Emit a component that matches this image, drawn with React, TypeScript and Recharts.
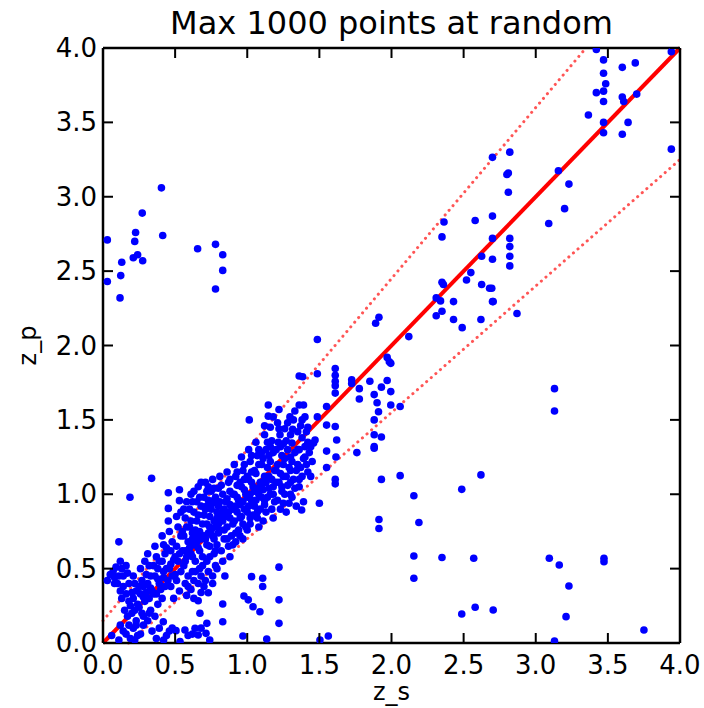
import { ScatterChart, Scatter, XAxis, YAxis, ReferenceLine } from 'recharts';

const title = 'Max 1000 points at random';
const xLabel = 'z_s';
const yLabel = 'z_p';
const ticks = [0, 0.5, 1, 1.5, 2, 2.5, 3, 3.5, 4];

// red guide lines: identity and the two dotted bounds
const identityLine = [{ x: 0, y: 0 }, { x: 4, y: 4 }];
const upperBound = [{ x: 0, y: 0.15 }, { x: 3.348, y: 4 }];
const lowerBound = [{ x: 0.1765, y: 0 }, { x: 4, y: 3.25 }];

const topLeftPoints: [number, number][] = [
  [0.03, 2.71], [0.22, 2.7], [0.226, 2.76], [0.272, 2.89], [0.405, 3.06], [0.414, 2.74],
  [0.656, 2.65], [0.78, 2.68], [0.21, 2.59], [0.24, 2.61], [0.275, 2.57], [0.13, 2.56],
  [0.123, 2.47], [0.03, 2.43], [0.118, 2.32], [0.83, 2.61], [0.83, 2.505], [0.78, 2.38],
];

const clusterPoints: [number, number][] = [
  [0.03, 0.42], [0.05, 0.46], [0.07, 0.48], [0.08, 0.4], [0.06, 0.05], [0.09, 0.51],
  [0.11, 0.68], [0.12, 0.55], [0.13, 0.5], [0.11, 0.45], [0.14, 0.38], [0.12, 0.35], [0.13, 0.3], [0.14, 0.08], [0.12, 0.12], [0.11, 0.02],
  [0.16, 0.52], [0.17, 0.47], [0.18, 0.4], [0.16, 0.33], [0.19, 0.25], [0.17, 0.18], [0.18, 0.12], [0.16, 0.06], [0.19, 0.03], [0.187, 0.98],
  [0.21, 0.45], [0.22, 0.4], [0.23, 0.35], [0.21, 0.3], [0.24, 0.26], [0.22, 0.22], [0.23, 0.15], [0.21, 0.1], [0.24, 0.05], [0.22, 0.02],
  [0.26, 0.5], [0.27, 0.42], [0.28, 0.38], [0.26, 0.33], [0.29, 0.28], [0.27, 0.2], [0.28, 0.12], [0.26, 0.06], [0.29, 0.55],
  [0.31, 0.6], [0.32, 0.52], [0.33, 0.45], [0.31, 0.4], [0.34, 0.35], [0.32, 0.3], [0.33, 0.22], [0.31, 0.15], [0.34, 0.08], [0.337, 1.107],
  [0.36, 0.65], [0.37, 0.58], [0.38, 0.5], [0.36, 0.45], [0.39, 0.4], [0.37, 0.33], [0.38, 0.26], [0.36, 0.18], [0.39, 0.1], [0.37, 0.03],
  [0.41, 0.72], [0.42, 0.66], [0.43, 0.6], [0.41, 0.55], [0.44, 0.5], [0.42, 0.44], [0.43, 0.38], [0.41, 0.3], [0.418, 0.143], [0.44, 0.05], [0.42, 0.02],
  [0.453, 1.01], [0.453, 0.905], [0.453, 0.82], [0.46, 0.75], [0.48, 0.68], [0.47, 0.62], [0.49, 0.56], [0.46, 0.5], [0.48, 0.45], [0.47, 0.38], [0.49, 0.3], [0.46, 0.08], [0.48, 0.1],
  [0.53, 1.03], [0.53, 0.957], [0.51, 0.85], [0.52, 0.78], [0.54, 0.72], [0.51, 0.65], [0.53, 0.6], [0.52, 0.55], [0.54, 0.48], [0.51, 0.42], [0.53, 0.35], [0.506, 0.083], [0.534, 0.009],
  [0.56, 0.9], [0.57, 0.84], [0.58, 0.78], [0.56, 0.72], [0.59, 0.68], [0.57, 0.62], [0.58, 0.58], [0.56, 0.52], [0.59, 0.45], [0.57, 0.4], [0.58, 0.32], [0.568, 0.087], [0.59, 0.05],
  [0.61, 1.0], [0.62, 0.95], [0.63, 0.88], [0.61, 0.82], [0.64, 0.76], [0.62, 0.7], [0.63, 0.66], [0.61, 0.6], [0.64, 0.55], [0.62, 0.48], [0.63, 0.42], [0.61, 0.36], [0.638, 0.099], [0.62, 0.06],
  [0.66, 1.05], [0.67, 0.98], [0.68, 0.92], [0.66, 0.86], [0.69, 0.8], [0.67, 0.75], [0.68, 0.7], [0.66, 0.64], [0.69, 0.58], [0.67, 0.5], [0.68, 0.45], [0.66, 0.4], [0.66, 0.284], [0.672, 0.2], [0.68, 0.1], [0.66, 0.054],
  [0.71, 1.08], [0.72, 1.02], [0.73, 0.96], [0.71, 0.9], [0.74, 0.85], [0.72, 0.8], [0.73, 0.74], [0.71, 0.7], [0.74, 0.65], [0.72, 0.55], [0.73, 0.48], [0.71, 0.42], [0.73, 0.338], [0.72, 0.132], [0.714, 0.065], [0.74, 0.02],
  [0.76, 1.1], [0.77, 1.04], [0.78, 0.98], [0.76, 0.94], [0.79, 0.88], [0.77, 0.82], [0.78, 0.78], [0.76, 0.72], [0.79, 0.66], [0.77, 0.6], [0.78, 0.52], [0.76, 0.45],
  [0.81, 1.12], [0.82, 1.06], [0.83, 1.0], [0.81, 0.95], [0.84, 0.9], [0.82, 0.86], [0.83, 0.82], [0.81, 0.76], [0.84, 0.7], [0.82, 0.62], [0.83, 0.55], [0.845, 0.45], [0.83, 0.262], [0.83, 0.143],
  [0.86, 1.15], [0.87, 1.08], [0.88, 1.02], [0.86, 0.97], [0.89, 0.92], [0.87, 0.88], [0.88, 0.84], [0.86, 0.78], [0.89, 0.72], [0.87, 0.65], [0.88, 0.58],
  [0.91, 1.2], [0.92, 1.12], [0.93, 1.06], [0.91, 1.0], [0.94, 0.96], [0.92, 0.92], [0.93, 0.88], [0.91, 0.82], [0.94, 0.76], [0.92, 0.68],
  [0.96, 1.25], [0.97, 1.16], [0.98, 1.1], [0.96, 1.05], [0.99, 1.0], [0.97, 0.95], [0.98, 0.9], [0.96, 0.85], [0.99, 0.78], [0.97, 0.7], [0.977, 0.316], [0.97, 0.047],
  [1.014, 1.5], [1.01, 1.3], [1.02, 1.22], [1.03, 1.15], [1.01, 1.1], [1.04, 1.05], [1.02, 1.0], [1.03, 0.96], [1.01, 0.92], [1.04, 0.86], [1.02, 0.8], [1.007, 0.29], [1.03, 0.446], [1.04, 0.244],
  [1.06, 1.35], [1.07, 1.26], [1.08, 1.2], [1.06, 1.14], [1.09, 1.08], [1.07, 1.04], [1.08, 1.0], [1.06, 0.96], [1.09, 0.9], [1.07, 0.84], [1.08, 0.78], [1.088, 0.21], [1.107, 0.435], [1.107, 0.38],
  [1.14, 1.35], [1.146, 1.6], [1.146, 1.525], [1.12, 1.4], [1.13, 1.3], [1.11, 1.24], [1.14, 1.18], [1.12, 1.12], [1.13, 1.08], [1.11, 1.03], [1.14, 0.98], [1.12, 0.93], [1.13, 0.88], [1.11, 0.82], [1.135, 0.027],
  [1.16, 1.45], [1.17, 1.36], [1.18, 1.28], [1.16, 1.22], [1.19, 1.16], [1.17, 1.1], [1.18, 1.05], [1.16, 1.0], [1.19, 0.95], [1.17, 0.9], [1.18, 0.84],
  [1.22, 1.57], [1.227, 1.4], [1.215, 1.35], [1.21, 1.48], [1.23, 1.32], [1.24, 1.26], [1.21, 1.2], [1.23, 1.14], [1.22, 1.08], [1.24, 1.02], [1.21, 0.96], [1.23, 0.9], [1.22, 0.51], [1.22, 0.29], [1.22, 0.132],
  [1.296, 1.52], [1.26, 1.44], [1.27, 1.36], [1.28, 1.3], [1.26, 1.24], [1.29, 1.18], [1.27, 1.12], [1.28, 1.06], [1.26, 1.0], [1.29, 0.94], [1.27, 0.88],
  [1.315, 1.437], [1.31, 1.345], [1.32, 1.5], [1.33, 1.28], [1.31, 1.22], [1.34, 1.16], [1.32, 1.1], [1.33, 1.04], [1.31, 0.98], [1.34, 0.92],
  [1.36, 1.6], [1.37, 1.46], [1.38, 1.38], [1.36, 1.3], [1.39, 1.24], [1.37, 1.18], [1.38, 1.12], [1.36, 1.05], [1.39, 0.95],
  [1.41, 1.42], [1.42, 1.35], [1.43, 1.28], [1.41, 1.2], [1.44, 1.12],
];

// extra points filling the dense band along the diagonal
const clusterFill: [number, number][] = [
  [0.15, 0.22], [0.2, 0.2], [0.25, 0.24], [0.28, 0.31], [0.3, 0.34], [0.33, 0.37], [0.35, 0.33], [0.38, 0.43],
  [0.4, 0.36], [0.42, 0.48], [0.45, 0.42], [0.47, 0.53], [0.5, 0.46], [0.5, 0.58], [0.44, 0.64], [0.39, 0.55],
  [0.35, 0.52], [0.3, 0.46], [0.25, 0.38], [0.2, 0.34], [0.18, 0.28], [0.23, 0.12], [0.28, 0.18], [0.32, 0.2],
  [0.14, 0.45], [0.1, 0.4], [0.08, 0.44],
  [0.55, 0.62], [0.6, 0.64], [0.65, 0.68], [0.7, 0.72], [0.75, 0.76], [0.8, 0.8], [0.55, 0.75], [0.6, 0.78],
  [0.65, 0.82], [0.7, 0.86], [0.75, 0.9], [0.8, 0.92], [0.57, 0.55], [0.62, 0.58], [0.67, 0.62], [0.72, 0.66],
  [0.77, 0.7], [0.8, 0.74], [0.6, 0.9], [0.65, 0.95], [0.7, 0.98], [0.75, 1.02], [0.8, 1.04], [0.54, 0.88],
  [0.58, 0.95], [0.63, 1.02], [0.68, 1.08], [0.73, 1.05], [0.77, 0.96], [0.79, 0.84], [0.72, 0.92], [0.62, 0.74],
  [0.66, 0.72], [0.74, 0.78], [0.69, 0.52], [0.74, 0.58], [0.78, 0.62], [0.64, 0.48], [0.59, 0.38], [0.63, 0.3],
  [0.68, 0.34], [0.7, 0.38], [0.76, 0.4], [0.79, 0.5],
  [0.85, 0.85], [0.9, 0.9], [0.95, 0.93], [1.0, 0.98], [1.05, 1.02], [1.1, 1.06], [0.85, 0.95], [0.9, 1.0],
  [0.95, 1.08], [1.0, 1.12], [1.05, 1.16], [1.1, 1.2], [0.84, 0.76], [0.9, 0.8], [0.95, 0.84], [1.0, 0.88],
  [1.05, 0.92], [1.1, 0.98], [0.88, 1.1], [0.93, 1.15], [0.98, 1.2], [1.03, 1.26], [1.08, 1.3], [0.86, 0.7],
  [0.92, 0.74], [0.97, 0.8], [1.02, 0.84], [1.07, 0.88], [0.9, 0.66], [0.95, 0.72], [1.0, 0.76], [0.93, 0.98],
  [0.98, 1.03], [1.03, 1.08], [0.83, 0.88], [0.88, 0.93],
  [1.15, 1.12], [1.2, 1.16], [1.25, 1.2], [1.3, 1.25], [1.35, 1.3], [1.4, 1.32], [1.15, 1.26], [1.2, 1.3],
  [1.25, 1.34], [1.3, 1.4], [1.35, 1.42], [1.15, 1.04], [1.2, 1.08], [1.25, 1.12], [1.3, 1.16], [1.35, 1.2],
  [1.4, 1.25], [1.12, 0.96], [1.18, 1.0], [1.24, 1.05], [1.3, 1.08], [1.16, 1.32], [1.22, 1.44], [1.28, 1.48],
  [1.33, 1.56], [1.1, 1.28], [1.12, 1.46], [1.18, 1.52], [1.25, 0.94], [1.3, 1.0], [1.36, 1.1], [1.42, 1.15],
  [1.45, 1.22], [1.44, 1.32], [1.38, 1.5],
];

const midPoints: [number, number][] = [
  [1.486, 2.04], [1.384, 1.79], [1.486, 1.81], [1.61, 1.845], [1.61, 1.8], [1.61, 1.76], [1.61, 1.73],
  [1.724, 1.77], [1.724, 1.745], [1.777, 1.71], [1.85, 1.76], [1.93, 1.72], [1.97, 1.765], [1.995, 1.69],
  [1.88, 1.67], [1.777, 1.64], [1.61, 1.68], [1.9, 1.615], [1.995, 1.6], [2.06, 1.59], [1.91, 1.555],
  [1.88, 1.5], [1.55, 1.59], [1.486, 1.52], [1.55, 1.465], [1.61, 1.455], [1.62, 1.365], [1.47, 1.365],
  [1.88, 1.4], [1.93, 1.385], [1.88, 1.32], [1.55, 1.29], [1.46, 1.345], [1.615, 1.25], [1.76, 1.28],
  [1.88, 1.31], [1.55, 1.18], [1.61, 1.1], [1.61, 1.07], [1.39, 1.6], [1.4, 1.52], [1.36, 1.795], [1.42, 1.45],
];

const upperPoints: [number, number][] = [
  [1.913, 2.19], [1.89, 2.15], [2.12, 2.06], [1.97, 1.92], [1.985, 1.89], [1.995, 1.88],
  [2.31, 2.32], [2.34, 2.3], [2.35, 2.425], [2.36, 2.41], [2.43, 2.295], [2.35, 2.23], [2.31, 2.2],
  [2.43, 2.175], [2.49, 2.12], [2.62, 2.175], [2.52, 2.44], [2.55, 2.49], [2.625, 2.6], [2.625, 2.41],
  [2.68, 2.385], [2.7, 2.295], [2.7, 2.58], [2.695, 2.385], [2.705, 2.295], [2.82, 2.665], [2.82, 2.6],
  [2.82, 2.535], [2.82, 2.72], [2.87, 2.215], [2.364, 2.83], [2.35, 2.73], [2.58, 2.84], [2.7, 2.87],
  [2.7, 2.72], [2.7, 3.265], [2.82, 3.3], [2.81, 3.16], [2.8, 3.15], [2.81, 3.03], [3.157, 3.175],
  [3.23, 3.085], [3.2, 2.92], [3.09, 2.82], [3.42, 3.99], [3.94, 3.975], [3.47, 3.92], [3.6, 3.87],
  [3.69, 3.9], [3.47, 3.83], [3.485, 3.76], [3.47, 3.71], [3.42, 3.7], [3.6, 3.67], [3.61, 3.64],
  [3.7, 3.69], [3.47, 3.64], [3.365, 3.55], [3.47, 3.5], [3.64, 3.5], [3.47, 3.43], [3.6, 3.42],
  [3.94, 3.32], [3.13, 1.71], [3.13, 1.56],
];

const lowPoints: [number, number][] = [
  [2.155, 0.99], [2.487, 1.033], [2.62, 1.13], [2.06, 1.125], [1.93, 1.1], [1.913, 0.83], [1.913, 0.77],
  [2.19, 0.81], [2.155, 0.585], [2.35, 0.575], [2.57, 0.57], [2.155, 0.435], [2.487, 0.195], [2.58, 0.24],
  [2.705, 0.222], [1.562, 0.047], [1.504, 0.02], [3.094, 0.57], [3.163, 0.524], [3.473, 0.57], [3.473, 0.547],
  [3.23, 0.383], [3.21, 0.177], [3.13, 0.013], [3.75, 0.087], [1.377, 0.894], [1.5, 0.94],
];

const points = [
  ...topLeftPoints, ...clusterPoints, ...clusterFill, ...midPoints, ...upperPoints, ...lowPoints,
].map(([x, y]) => ({ x, y }));

const FONT = 'DejaVu Sans, sans-serif';
const TICK_LEN = 10;

const BottomTick = ({ x, y, payload }: any) => (
  <g>
    <line x1={x} y1={y} x2={x} y2={y - TICK_LEN} stroke="#000" strokeWidth={2} />
    <text x={x} y={y + 31} textAnchor="middle" fontSize={26} fontFamily={FONT} fill="#000">
      {Number(payload.value).toFixed(1)}
    </text>
  </g>
);

const TopTick = ({ x, y }: any) => (
  <line x1={x} y1={y} x2={x} y2={y + TICK_LEN} stroke="#000" strokeWidth={2} />
);

const LeftTick = ({ x, y, payload }: any) => (
  <g>
    <line x1={x} y1={y} x2={x + TICK_LEN} y2={y} stroke="#000" strokeWidth={2} />
    <text x={x - 6} y={y + 9} textAnchor="end" fontSize={26} fontFamily={FONT} fill="#000">
      {Number(payload.value).toFixed(1)}
    </text>
  </g>
);

const RightTick = ({ x, y }: any) => (
  <line x1={x} y1={y} x2={x - TICK_LEN} y2={y} stroke="#000" strokeWidth={2} />
);

const Dot = (p: any) => <circle cx={p.cx} cy={p.cy} r={3.8} fill="#0000ff" />;

const axisLine = { stroke: '#000', strokeWidth: 2.5 };

export default function App() {
  return (
    <div style={{ position: 'absolute', left: 0, top: 0, width: 704, height: 708, background: '#fff' }}>
      <ScatterChart width={704} height={708} margin={{ top: 0, right: 0, bottom: 0, left: 0 }}>
        <XAxis
          type="number" dataKey="x" domain={[0, 4]} ticks={ticks} allowDataOverflow
          height={65} axisLine={axisLine} tickLine={false} tickSize={0} tickMargin={0}
          tick={<BottomTick />} interval={0}
        />
        <XAxis
          xAxisId="top" orientation="top" type="number" dataKey="x" domain={[0, 4]} ticks={ticks}
          allowDataOverflow height={48} axisLine={axisLine} tickLine={false} tickSize={0}
          tickMargin={0} tick={<TopTick />} interval={0}
        />
        <YAxis
          type="number" dataKey="y" domain={[0, 4]} ticks={ticks} allowDataOverflow
          width={103} axisLine={axisLine} tickLine={false} tickSize={0} tickMargin={0}
          tick={<LeftTick />} interval={0}
        />
        <YAxis
          yAxisId="right" orientation="right" type="number" dataKey="y" domain={[0, 4]} ticks={ticks}
          allowDataOverflow width={24} axisLine={axisLine} tickLine={false} tickSize={0}
          tickMargin={0} tick={<RightTick />} interval={0}
        />
        <Scatter data={points} shape={<Dot />} isAnimationActive={false} />
        <Scatter data={[]} xAxisId="top" yAxisId="right" isAnimationActive={false} />
        <ReferenceLine
          segment={upperBound} stroke="#ff2a2a" strokeWidth={3} strokeDasharray="0.1 6"
          strokeLinecap="round" strokeOpacity={0.8}
        />
        <ReferenceLine
          segment={lowerBound} stroke="#ff2a2a" strokeWidth={3} strokeDasharray="0.1 6"
          strokeLinecap="round" strokeOpacity={0.8}
        />
        <ReferenceLine segment={identityLine} stroke="#ff0000" strokeWidth={4} />
      </ScatterChart>
      <svg
        width={704} height={708}
        style={{ position: 'absolute', left: 0, top: 0, pointerEvents: 'none' }}
      >
        <text x={391.5} y={34} textAnchor="middle" fontSize={32} fontFamily={FONT} fill="#000">
          {title}
        </text>
        <text x={391.5} y={700} textAnchor="middle" fontSize={24} fontFamily={FONT} fill="#000">
          {xLabel}
        </text>
        <text
          transform="translate(36, 345.5) rotate(-90)" textAnchor="middle" fontSize={24}
          fontFamily={FONT} fill="#000"
        >
          {yLabel}
        </text>
      </svg>
    </div>
  );
}
